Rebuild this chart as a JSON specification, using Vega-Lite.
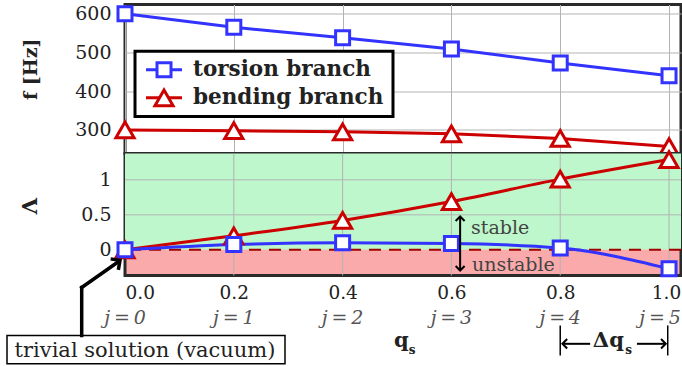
{
  "$schema": "https://vega.github.io/schema/vega-lite/v6.json",
  "padding": {"left": 4, "top": -1.5, "right": 0, "bottom": 0},
  "background": "white",
  "spacing": 0,
  "bounds": "flush",
  "config": {
    "font": "DejaVu Serif",
    "view": {"stroke": "#2a2a2a", "strokeWidth": 3},
    "axis": {
      "labelFont": "DejaVu Serif", "labelFontSize": 19, "labelColor": "#222222",
      "ticks": false, "domain": false, "gridColor": "#b3b3b3", "gridWidth": 1,
      "titleFont": "DejaVu Serif", "titleFontWeight": "bold", "titleFontSize": 19, "titleColor": "#222222"
    }
  },
  "datasets": {
    "branches": [
      {"q": 0.0, "branch": "torsion", "f": 600, "L": 0.0},
      {"q": 0.2, "branch": "torsion", "f": 565, "L": 0.075},
      {"q": 0.4, "branch": "torsion", "f": 538, "L": 0.1},
      {"q": 0.6, "branch": "torsion", "f": 509, "L": 0.09},
      {"q": 0.8, "branch": "torsion", "f": 473, "L": 0.025},
      {"q": 1.0, "branch": "torsion", "f": 440, "L": -0.27},
      {"q": 0.0, "branch": "bending", "f": 300, "L": 0.0},
      {"q": 0.2, "branch": "bending", "f": 298, "L": 0.2},
      {"q": 0.4, "branch": "bending", "f": 295, "L": 0.42},
      {"q": 0.6, "branch": "bending", "f": 290, "L": 0.69},
      {"q": 0.8, "branch": "bending", "f": 278, "L": 1.01},
      {"q": 1.0, "branch": "bending", "f": 257, "L": 1.29}
    ],
    "ticks": [
      {"q": 0.0, "j": "j\u2009=\u20090"},
      {"q": 0.2, "j": "j\u2009=\u20091"},
      {"q": 0.4, "j": "j\u2009=\u20092"},
      {"q": 0.6, "j": "j\u2009=\u20093"},
      {"q": 0.8, "j": "j\u2009=\u20094"},
      {"q": 1.0, "j": "j\u2009=\u20095"}
    ],
    "one": [{"n": 1}]
  },
  "vconcat": [
    {
      "width": 556,
      "height": 149,
      "layer": [
        {"data": {"name": "branches"}, "transform": [{"filter": "datum.branch === 'bending'"}],
         "mark": {"type": "line", "color": "#cc0000", "strokeWidth": 3},
         "encoding": {
           "x": {"field": "q", "type": "quantitative", "scale": {"domain": [0, 1.022], "nice": false, "zero": false},
                 "axis": {"values": [0, 0.2, 0.4, 0.6, 0.8, 1.0], "labels": false, "grid": true, "title": null}},
           "y": {"field": "f", "type": "quantitative", "scale": {"domain": [239, 624], "nice": false, "zero": false},
                 "axis": {"values": [300, 400, 500, 600], "grid": true, "title": "f [Hz]", "titleX": -95, "titleY": 64.3,
                          "titleAngle": -90, "titleAlign": "center", "titleBaseline": "middle", "labelPadding": 14}}
         }},
        {"data": {"name": "branches"}, "transform": [{"filter": "datum.branch === 'torsion'"}],
         "mark": {"type": "line", "color": "#3333ff", "strokeWidth": 3},
         "encoding": {"x": {"field": "q", "type": "quantitative"}, "y": {"field": "f", "type": "quantitative"}}},
        {"data": {"name": "branches"}, "transform": [{"filter": "datum.branch === 'bending'"}],
         "mark": {"type": "point", "shape": "triangle-up", "size": 330, "filled": true, "fill": "white", "stroke": "#cc0000", "strokeWidth": 3, "opacity": 1},
         "encoding": {"x": {"field": "q", "type": "quantitative"}, "y": {"field": "f", "type": "quantitative"}}},
        {"data": {"name": "branches"}, "transform": [{"filter": "datum.branch === 'torsion'"}],
         "mark": {"type": "point", "shape": "square", "size": 196, "filled": true, "fill": "white", "stroke": "#3333ff", "strokeWidth": 3, "opacity": 1},
         "encoding": {"x": {"field": "q", "type": "quantitative"}, "y": {"field": "f", "type": "quantitative"}}},
        {"data": {"name": "one"},
         "mark": {"type": "rect", "fill": "white", "stroke": "black", "strokeWidth": 3},
         "encoding": {"x": {"datum": 0.0184}, "x2": {"datum": 0.4926}, "y": {"datum": 503.4}, "y2": {"datum": 334.6}}},
        {"data": {"name": "one"},
         "mark": {"type": "rule", "color": "#3333ff", "strokeWidth": 3},
         "encoding": {"x": {"datum": 0.0386}, "x2": {"datum": 0.1048}, "y": {"datum": 455.3}}},
        {"data": {"name": "one"},
         "mark": {"type": "rule", "color": "#cc0000", "strokeWidth": 3},
         "encoding": {"x": {"datum": 0.0386}, "x2": {"datum": 0.1048}, "y": {"datum": 383}}},
        {"data": {"name": "one"},
         "mark": {"type": "point", "shape": "square", "size": 196, "filled": true, "fill": "white", "stroke": "#3333ff", "strokeWidth": 3, "opacity": 1},
         "encoding": {"x": {"datum": 0.0717}, "y": {"datum": 455.3}}},
        {"data": {"name": "one"},
         "mark": {"type": "point", "shape": "triangle-up", "size": 330, "filled": true, "fill": "white", "stroke": "#cc0000", "strokeWidth": 3, "opacity": 1},
         "encoding": {"x": {"datum": 0.0717}, "y": {"datum": 383}}},
        {"data": {"values": [{"label": "torsion branch"}]},
         "mark": {"type": "text", "align": "left", "baseline": "middle", "fontWeight": "bold", "fontSize": 21.5, "color": "#222222"},
         "encoding": {"x": {"datum": 0.125}, "y": {"datum": 455.3}, "text": {"field": "label"}}},
        {"data": {"values": [{"label": "bending branch"}]},
         "mark": {"type": "text", "align": "left", "baseline": "middle", "fontWeight": "bold", "fontSize": 21.5, "color": "#222222"},
         "encoding": {"x": {"datum": 0.125}, "y": {"datum": 383}, "text": {"field": "label"}}}
      ]
    },
    {
      "width": 556,
      "height": 122,
      "view": {"fill": "#faaaaa"},
      "layer": [
        {"data": {"name": "one"},
         "mark": {"type": "rect", "color": "#bdf7cb"},
         "encoding": {
           "x": {"datum": 0, "type": "quantitative", "scale": {"domain": [0, 1.022], "nice": false, "zero": false},
                 "axis": {"values": [0, 0.2, 0.4, 0.6, 0.8, 1.0], "format": ".1f", "grid": false, "title": null, "labelPadding": 8,
                          "labelFontSize": 18.5,
                          "labelOffset": {"condition": {"test": "datum.value === 1", "value": -3}, "value": 0}}},
           "x2": {"datum": 1.022},
           "y": {"datum": 0, "type": "quantitative", "scale": {"domain": [-0.367, 1.376], "nice": false, "zero": false},
                 "axis": {"values": [0, 0.5, 1], "format": "~g", "grid": false, "title": "Λ", "titleX": -95, "titleY": 52,
                          "titleAngle": -90, "titleAlign": "center", "titleBaseline": "middle", "titleFontSize": 21, "labelPadding": 14}},
           "y2": {"datum": 1.376}
         }},
        {"data": {"name": "ticks"}, "transform": [{"filter": "datum.q > 0"}],
         "mark": {"type": "rule", "color": "#b3b3b3", "strokeWidth": 1},
         "encoding": {"x": {"field": "q", "type": "quantitative"}}},
        {"data": {"values": [{"v": 0.5}, {"v": 1}]},
         "mark": {"type": "rule", "color": "#b3b3b3", "strokeWidth": 1},
         "encoding": {"y": {"field": "v", "type": "quantitative"}}},
        {"data": {"name": "one"},
         "mark": {"type": "rule", "color": "#a00000", "strokeWidth": 2, "strokeDash": [12, 8]},
         "encoding": {"y": {"datum": 0}}},
        {"data": {"name": "branches"}, "transform": [{"filter": "datum.branch === 'bending'"}],
         "mark": {"type": "line", "color": "#cc0000", "strokeWidth": 3, "interpolate": "monotone"},
         "encoding": {"x": {"field": "q", "type": "quantitative"}, "y": {"field": "L", "type": "quantitative"}}},
        {"data": {"name": "branches"}, "transform": [{"filter": "datum.branch === 'torsion'"}],
         "mark": {"type": "line", "color": "#3333ff", "strokeWidth": 3, "interpolate": "monotone"},
         "encoding": {"x": {"field": "q", "type": "quantitative"}, "y": {"field": "L", "type": "quantitative"}}},
        {"data": {"name": "branches"}, "transform": [{"filter": "datum.branch === 'bending'"}],
         "mark": {"type": "point", "shape": "triangle-up", "size": 330, "filled": true, "fill": "white", "stroke": "#cc0000", "strokeWidth": 3, "opacity": 1},
         "encoding": {"x": {"field": "q", "type": "quantitative"}, "y": {"field": "L", "type": "quantitative"}}},
        {"data": {"name": "branches"}, "transform": [{"filter": "datum.branch === 'torsion'"}],
         "mark": {"type": "point", "shape": "square", "size": 196, "filled": true, "fill": "white", "stroke": "#3333ff", "strokeWidth": 3, "opacity": 1},
         "encoding": {"x": {"field": "q", "type": "quantitative"}, "y": {"field": "L", "type": "quantitative"}}},
        {"data": {"name": "one"},
         "mark": {"type": "rule", "color": "black", "strokeWidth": 2},
         "encoding": {"x": {"datum": 0.616}, "y": {"datum": -0.29}, "y2": {"datum": 0.47}}},
        {"data": {"name": "one"},
         "mark": {"type": "point", "shape": "M-1,1L0,0L1,1", "size": 80, "filled": false, "stroke": "black", "strokeWidth": 2, "opacity": 1},
         "encoding": {"x": {"datum": 0.616}, "y": {"datum": 0.476}}},
        {"data": {"name": "one"},
         "mark": {"type": "point", "shape": "M-1,-1L0,0L1,-1", "size": 80, "filled": false, "stroke": "black", "strokeWidth": 2, "opacity": 1},
         "encoding": {"x": {"datum": 0.616}, "y": {"datum": -0.296}}},
        {"data": {"values": [{"label": "stable"}]},
         "mark": {"type": "text", "align": "left", "baseline": "alphabetic", "fontSize": 19, "color": "#444444"},
         "encoding": {"x": {"datum": 0.636}, "y": {"datum": 0.219}, "text": {"field": "label"}}},
        {"data": {"values": [{"label": "unstable"}]},
         "mark": {"type": "text", "align": "left", "baseline": "alphabetic", "fontSize": 19, "color": "#444444"},
         "encoding": {"x": {"datum": 0.638}, "y": {"datum": -0.296}, "text": {"field": "label"}}},
        {"data": {"name": "ticks"}, "transform": [{"filter": "datum.q < 1"}],
         "mark": {"type": "text", "align": "center", "baseline": "alphabetic", "fontSize": 19, "fontStyle": "italic", "color": "#555555"},
         "encoding": {"x": {"field": "q", "type": "quantitative"}, "y": {"datum": -1.053}, "text": {"field": "j"}}},
        {"data": {"name": "ticks"}, "transform": [{"filter": "datum.q === 1"}],
         "mark": {"type": "text", "align": "center", "baseline": "alphabetic", "fontSize": 19, "fontStyle": "italic", "color": "#555555", "dx": -9},
         "encoding": {"x": {"field": "q", "type": "quantitative"}, "y": {"datum": -1.053}, "text": {"field": "j"}}},
        {"data": {"name": "one"},
         "mark": {"type": "rect", "fill": "white", "stroke": "black", "strokeWidth": 1.5},
         "encoding": {"x": {"datum": -0.2169}, "x2": {"datum": 0.2941}, "y": {"datum": -1.2243}, "y2": {"datum": -1.6286}}},
        {"data": {"values": [{"label": "trivial solution (vacuum)"}]},
         "mark": {"type": "text", "align": "center", "baseline": "alphabetic", "fontSize": 21, "color": "#222222"},
         "encoding": {"x": {"datum": 0.0368}, "y": {"datum": -1.534}, "text": {"field": "label"}}},
        {"data": {"name": "one"},
         "mark": {"type": "rule", "color": "black", "strokeWidth": 3.5, "strokeCap": "square"},
         "encoding": {"x": {"datum": -0.0796}, "y": {"datum": -1.224}, "y2": {"datum": -0.539}}},
        {"data": {"name": "one"},
         "mark": {"type": "rule", "color": "black", "strokeWidth": 3.5, "strokeCap": "square"},
         "encoding": {"x": {"datum": -0.0796}, "x2": {"datum": -0.0129}, "y": {"datum": -0.539}, "y2": {"datum": -0.174}}},
        {"data": {"name": "one"},
         "mark": {"type": "point", "shape": "M-1,1L0,0L1,1", "size": 180, "angle": 55, "filled": false, "stroke": "black", "strokeWidth": 3.5, "strokeJoin": "miter", "opacity": 1},
         "encoding": {"x": {"datum": -0.0092}, "y": {"datum": -0.153}}},
        {"data": {"values": [{"label": "q"}]},
         "mark": {"type": "text", "align": "center", "baseline": "alphabetic", "fontSize": 21, "fontWeight": "bold", "color": "#222222"},
         "encoding": {"x": {"datum": 0.508}, "y": {"datum": -1.391}, "text": {"field": "label"}}},
        {"data": {"values": [{"label": "s"}]},
         "mark": {"type": "text", "align": "center", "baseline": "alphabetic", "fontSize": 12, "fontWeight": "bold", "color": "#222222"},
         "encoding": {"x": {"datum": 0.5276}, "y": {"datum": -1.486}, "text": {"field": "label"}}},
        {"data": {"name": "one"},
         "mark": {"type": "rule", "color": "black", "strokeWidth": 1.5},
         "encoding": {"x": {"datum": 0.8}, "y": {"datum": -1.08}, "y2": {"datum": -1.51}}},
        {"data": {"name": "one"},
         "mark": {"type": "rule", "color": "black", "strokeWidth": 1.5},
         "encoding": {"x": {"datum": 0.9976}, "y": {"datum": -1.08}, "y2": {"datum": -1.51}}},
        {"data": {"name": "one"},
         "mark": {"type": "rule", "color": "black", "strokeWidth": 2},
         "encoding": {"x": {"datum": 0.806}, "x2": {"datum": 0.855}, "y": {"datum": -1.343}}},
        {"data": {"name": "one"},
         "mark": {"type": "rule", "color": "black", "strokeWidth": 2},
         "encoding": {"x": {"datum": 0.941}, "x2": {"datum": 0.992}, "y": {"datum": -1.343}}},
        {"data": {"name": "one"},
         "mark": {"type": "point", "shape": "M1,-1L0,0L1,1", "size": 90, "filled": false, "stroke": "black", "strokeWidth": 2, "opacity": 1},
         "encoding": {"x": {"datum": 0.804}, "y": {"datum": -1.343}}},
        {"data": {"name": "one"},
         "mark": {"type": "point", "shape": "M-1,-1L0,0L-1,1", "size": 90, "filled": false, "stroke": "black", "strokeWidth": 2, "opacity": 1},
         "encoding": {"x": {"datum": 0.994}, "y": {"datum": -1.343}}},
        {"data": {"values": [{"label": "Δq"}]},
         "mark": {"type": "text", "align": "left", "baseline": "alphabetic", "fontSize": 21, "fontWeight": "bold", "color": "#222222"},
         "encoding": {"x": {"datum": 0.860}, "y": {"datum": -1.391}, "text": {"field": "label"}}},
        {"data": {"values": [{"label": "s"}]},
         "mark": {"type": "text", "align": "center", "baseline": "alphabetic", "fontSize": 12, "fontWeight": "bold", "color": "#222222"},
         "encoding": {"x": {"datum": 0.9256}, "y": {"datum": -1.486}, "text": {"field": "label"}}}
      ]
    }
  ]
}
